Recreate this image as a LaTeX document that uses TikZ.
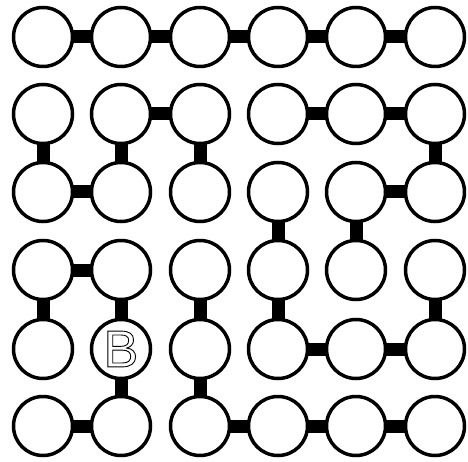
\documentclass[tikz,border=0pt]{standalone}
\usepackage{fontspec}
\setsansfont{Liberation Sans}
\usetikzlibrary{backgrounds}
\tikzset{
  cell/.style={circle, draw=black, fill=white, line width=3.5pt, minimum size=59pt, inner sep=0pt},
  link/.style={line width=13pt, black, line cap=butt}
}
\newcommand{\outlinetext}[1]{\special{pdf:literal direct 1 Tr 0.9 w}#1\special{pdf:literal direct 0 Tr}}
\begin{document}
\begin{tikzpicture}[x=1pt,y=-1pt]
\useasboundingbox (0,0) rectangle (468,462);
\foreach \c/\x in {1/43,2/121,3/200,4/278,5/356,6/435}{
  \foreach \r/\y in {1/37,2/114,3/192,4/270,5/349,6/426}{
    \node[cell] (n\r\c) at (\x,\y) {};
  }
}
\node[font=\sffamily\fontsize{52}{52}\selectfont] at (n52.center) {\outlinetext{B}};
\begin{pgfonlayer}{background}
\fill[white] (0,0) rectangle (468,462);
\foreach \a/\b in {11/12,12/13,13/14,14/15,15/16,
                   22/23,24/25,25/26,
                   21/31,22/32,23/33,26/36,
                   31/32,35/36,
                   34/44,35/45,
                   41/42,
                   41/51,42/52,43/53,44/54,46/56,
                   54/55,55/56,
                   52/62,53/63,
                   61/62,63/64,64/65,65/66}{
  \draw[link] (n\a.center) -- (n\b.center);
}
\end{pgfonlayer}
\end{tikzpicture}
\end{document}
